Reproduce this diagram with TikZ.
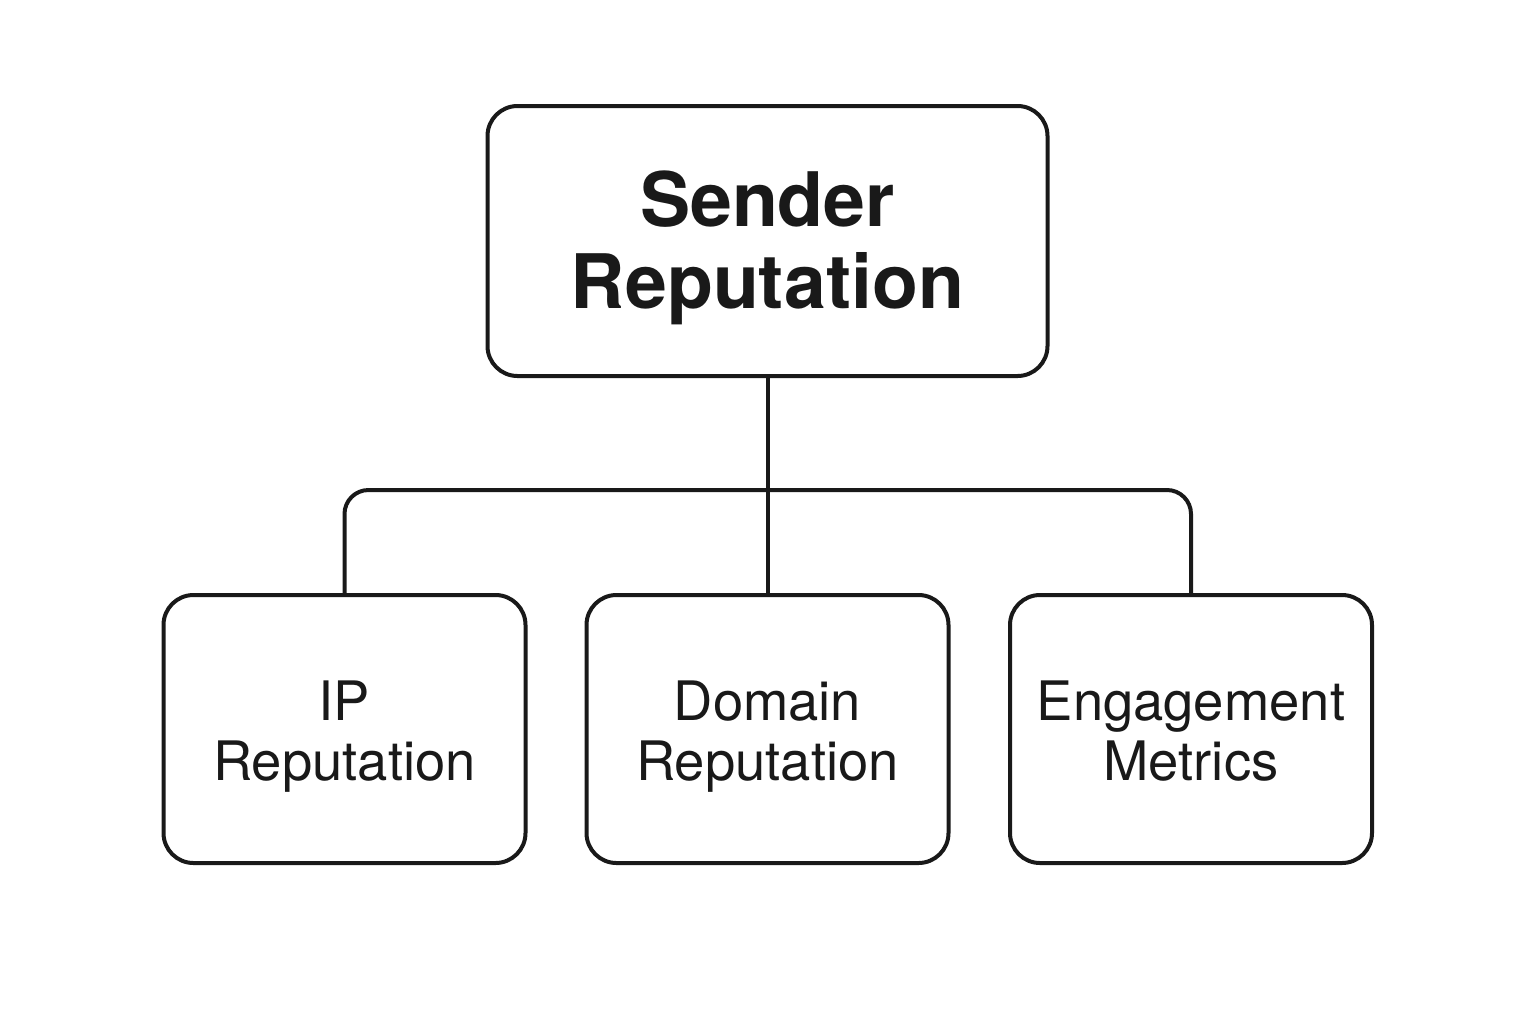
\documentclass[tikz,border=0pt]{standalone}
\usepackage{fontspec}
\setmainfont{TeX Gyre Heros}
\begin{document}
\begin{tikzpicture}[x=0.5pt,y=-0.5pt,
  box/.style={draw=black!90, line width=2pt, rounded corners=15pt, inner sep=0pt},
  bigbox/.style={box, minimum width=280pt, minimum height=135pt},
  smallbox/.style={box, minimum width=181pt, minimum height=134pt},
  biglabel/.style={font=\fontsize{37.6}{41}\selectfont\bfseries, align=center, text depth=8pt, text=black!90},
  smalllabel/.style={font=\fontsize{27.2}{30}\selectfont, align=center, text depth=6pt, text=black!90},
  conn/.style={draw=black!90, line width=2pt}]
\useasboundingbox (0,0) rectangle (1536,1024);
\node[bigbox] (top) at (767.5,241) {};
\node[smallbox] (ip) at (344.5,729) {};
\node[smallbox] (dom) at (767.5,729) {};
\node[smallbox] (eng) at (1191,729) {};
\node[biglabel, yshift=-3.5pt] (toplbl) at (top) {Sender\\Reputation};
\node[smalllabel, yshift=-4pt] (iplbl) at (ip) {IP\\Reputation};
\node[smalllabel, yshift=-4pt] (domlbl) at (dom) {Domain\\Reputation};
\node[smalllabel, yshift=-4pt] (englbl) at (eng) {Engagement\\Metrics};
\coordinate (bar) at (767.5,490);
\draw[conn] (top.south) -- (dom.north);
\draw[conn, rounded corners=12pt] (ip.north) |- (bar) -| (eng.north);
\end{tikzpicture}
\end{document}
